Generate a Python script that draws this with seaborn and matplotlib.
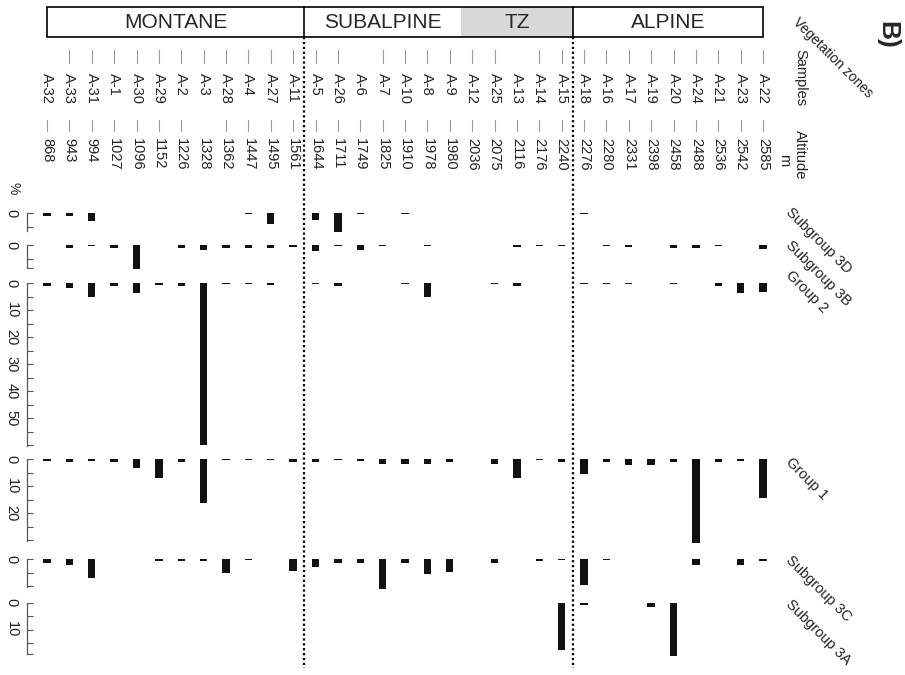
import matplotlib
matplotlib.use('Agg')
import matplotlib.pyplot as plt
import seaborn as sns
import numpy as np
import pandas as pd
from matplotlib.patches import Rectangle

# samples ordered by altitude
samples = ['A-32', 'A-33', 'A-31', 'A-1', 'A-30', 'A-29', 'A-2', 'A-3', 'A-28', 'A-4', 'A-27', 'A-11',
           'A-5', 'A-26', 'A-6', 'A-7', 'A-10', 'A-8', 'A-9',
           'A-12', 'A-25', 'A-13', 'A-14', 'A-15',
           'A-18', 'A-16', 'A-17', 'A-19', 'A-20', 'A-24', 'A-21', 'A-23', 'A-22']
altitudes = [868, 943, 994, 1027, 1096, 1152, 1226, 1328, 1362, 1447, 1495, 1561,
             1644, 1711, 1749, 1825, 1910, 1978, 1980,
             2036, 2075, 2116, 2176, 2240,
             2276, 2280, 2331, 2398, 2458, 2488, 2536, 2542, 2585]

zones = ['MONTANE', 'SUBALPINE', 'TZ', 'ALPINE']
zone_first = ['A-32', 'A-5', 'A-12', 'A-18']
no_sample_tick = ['A-32', 'A-6', 'A-13']
no_alt_tick = ['A-3']

# percentages per group
sg3d = [1, 1, 2.8, 0, 0, 0, 0, 0, 0, 0.3, 4, 0,
        2.5, 7, 0.3, 0, 0.3, 0, 0,
        0, 0, 0, 0, 0,
        0.3, 0, 0, 0, 0, 0, 0, 0, 0]
sg3b = [0, 1, 0.3, 1, 9, 0, 1, 2, 1, 1, 1, 0.7,
        2.2, 0.3, 1.7, 0.4, 0, 0.3, 0,
        0, 0, 0.8, 0.5, 0.5,
        0, 0.3, 0.8, 0, 1, 1, 0.3, 0, 1.6]
g2 = [1, 1.7, 5, 1, 3.7, 0.6, 1, 60, 0.5, 0.3, 0.8, 0,
      0.5, 1, 0, 0, 0.5, 5, 0,
      0, 0.5, 1, 0, 0,
      0.4, 0.3, 0.5, 0, 0.3, 0, 1, 3.7, 3.5]
g1 = [0.4, 1, 0.6, 1, 3, 6.8, 1, 16, 0.3, 0.3, 0.3, 1,
      0.8, 0.3, 0.7, 1.6, 1.5, 1.5, 0.8,
      0, 1.7, 6.7, 0.3, 1,
      5.4, 0.8, 2.2, 1.9, 0.8, 31, 0.8, 0.4, 14.4]
sg3c = [1.4, 2.3, 6.9, 0, 0, 0.7, 0.7, 0.7, 5, 0.4, 0, 4.3,
        3, 1.5, 1.5, 11, 1.5, 5.4, 4.9,
        0, 1.4, 0, 0.6, 0.4,
        9.5, 0.3, 0, 0, 0, 2.2, 0, 2.2, 0.6]
sg3a = [0, 0, 0, 0, 0, 0, 0, 0, 0, 0, 0, 0,
        0, 0, 0, 0, 0, 0, 0,
        0, 0, 0, 0, 17.5,
        0.9, 0, 0, 1.8, 19.8, 0, 0.3, 0, 0]

group_names = ['Subgroup 3D', 'Subgroup 3B', 'Group 2', 'Group 1', 'Subgroup 3C', 'Subgroup 3A']
group_values = [sg3d, sg3b, g2, g1, sg3c, sg3a]
axis_max = [6.5, 8.7, 60.4, 30.2, 10.3, 18.9]
axis_labels = [[0], [0], [0, 10, 20, 30, 40, 50], [0, 10, 20], [0], [0, 10]]

sns.set_theme(style='white')
plt.rcParams['font.family'] = ['Liberation Sans', 'DejaVu Sans']

W, H = 905, 675
fig = plt.figure(figsize=(W / 100, H / 100), dpi=100)

# pixel layout
x_first, x_step = 47, 22.375
ax_left, ax_right = 27, 780
panel_top = [213, 245, 283, 459.5, 559, 602.5]
label_top = [205, 238, 268, 455, 553, 597]
px_per_pct = 2.7
n = len(samples)
xlim = ((ax_left - x_first) / x_step, (ax_right - x_first) / x_step)


def fx(px):
    return px / W


def fy(py):
    return 1 - py / H


# overlay axes: x in sample index, y in pixels
ov = fig.add_axes([fx(ax_left), 0, fx(ax_right) - fx(ax_left), 1])
ov.set_xlim(xlim)
ov.set_ylim(H, 0)
ov.axis('off')

pos = {s: i for i, s in enumerate(samples)}
edges = [0] + [pos[s] - 0.5 for s in zone_first[1:]] + [n - 1]

ov.add_patch(Rectangle((edges[2], 7), edges[3] - edges[2], 30, facecolor='#d8d8d8', edgecolor='none'))
ov.add_patch(Rectangle((edges[0], 7), edges[-1] - edges[0], 30, facecolor='none', edgecolor='black', lw=1.2))
for e in [edges[1], edges[3]]:
    ov.plot([e, e], [7, 37], color='black', lw=1.2)
    ov.plot([e, e], [37, 668], color='black', lw=1.6, ls=(0, (1, 1.2)))
for k, name in enumerate(zones):
    ov.text((edges[k] + edges[k + 1]) / 2, 22.5, name, ha='center', va='center', fontsize=15)

for i, (s, a) in enumerate(zip(samples, altitudes)):
    if s not in no_sample_tick:
        ov.plot([i, i], [50, 63], color='#999999', lw=0.8)
    if s not in no_alt_tick:
        ov.plot([i, i], [120, 131], color='#999999', lw=0.8)
    ov.text(i, 73, s, rotation=-90, ha='center', va='top', fontsize=10.5, color='#222222')
    ov.text(i, 138, str(a), rotation=-90, ha='center', va='top', fontsize=10.5, color='#222222')

# one bar panel per group
for k, (name, vals) in enumerate(zip(group_names, group_values)):
    top = panel_top[k]
    ext = axis_max[k]
    hgt = ext * px_per_pct
    ax = fig.add_axes([fx(ax_left), fy(top + hgt), fx(ax_right) - fx(ax_left), hgt / H])
    df = pd.DataFrame({'sample': samples, 'pct': vals})
    sns.barplot(data=df, x='sample', y='pct', order=samples, color='#111111', width=0.33,
                errorbar=None, saturation=1, linewidth=0, ax=ax)
    for p in ax.patches:
        p.set_clip_on(False)
    ax.set_xlim(xlim)
    ax.set_ylim(ext, 0)
    ax.set_facecolor('none')
    for sp in ['top', 'right', 'bottom']:
        ax.spines[sp].set_visible(False)
    ax.spines['left'].set_bounds(0, ext)
    ax.spines['left'].set_color('#555555')
    ax.spines['left'].set_linewidth(0.9)
    ax.set_xticks([])
    ax.set_xlabel('')
    ax.set_ylabel('')
    ticks = list(np.arange(0, ext + 0.01, 5))
    if ext - ticks[-1] > 2:
        ticks.append(ext)
    ax.set_yticks(ticks)
    ax.set_yticklabels([str(int(t)) if t in axis_labels[k] else '' for t in ticks])
    ax.tick_params(axis='y', direction='in', length=4, width=0.8, color='#555555', pad=6,
                   labelsize=10.5, labelcolor='#222222', left=True)
    for lab in ax.get_yticklabels():
        lab.set_rotation(-90)
        lab.set_va('center')
    fig.text(fx(793), fy(label_top[k]), name, rotation=-45, rotation_mode='anchor',
             ha='left', va='top', fontsize=10.5, color='#222222')

fig.text(fx(800), fy(15), 'Vegetation zones', rotation=-45, rotation_mode='anchor',
         ha='left', va='top', fontsize=10, color='#222222')
fig.text(fx(800), fy(78), 'Samples', rotation=-90, ha='center', va='center', fontsize=10.5, color='#222222')
fig.text(fx(800), fy(155), 'Altitude', rotation=-90, ha='center', va='center', fontsize=10.5, color='#222222')
fig.text(fx(784), fy(160), 'm', rotation=-90, ha='center', va='center', fontsize=10.5, color='#222222')
fig.text(fx(887), fy(35), 'B)', rotation=-90, ha='center', va='center', fontsize=19, fontweight='bold')
fig.text(fx(13), fy(188), '%', rotation=-90, ha='center', va='center', fontsize=10, color='#222222')

fig.savefig('out.png', dpi=100)
